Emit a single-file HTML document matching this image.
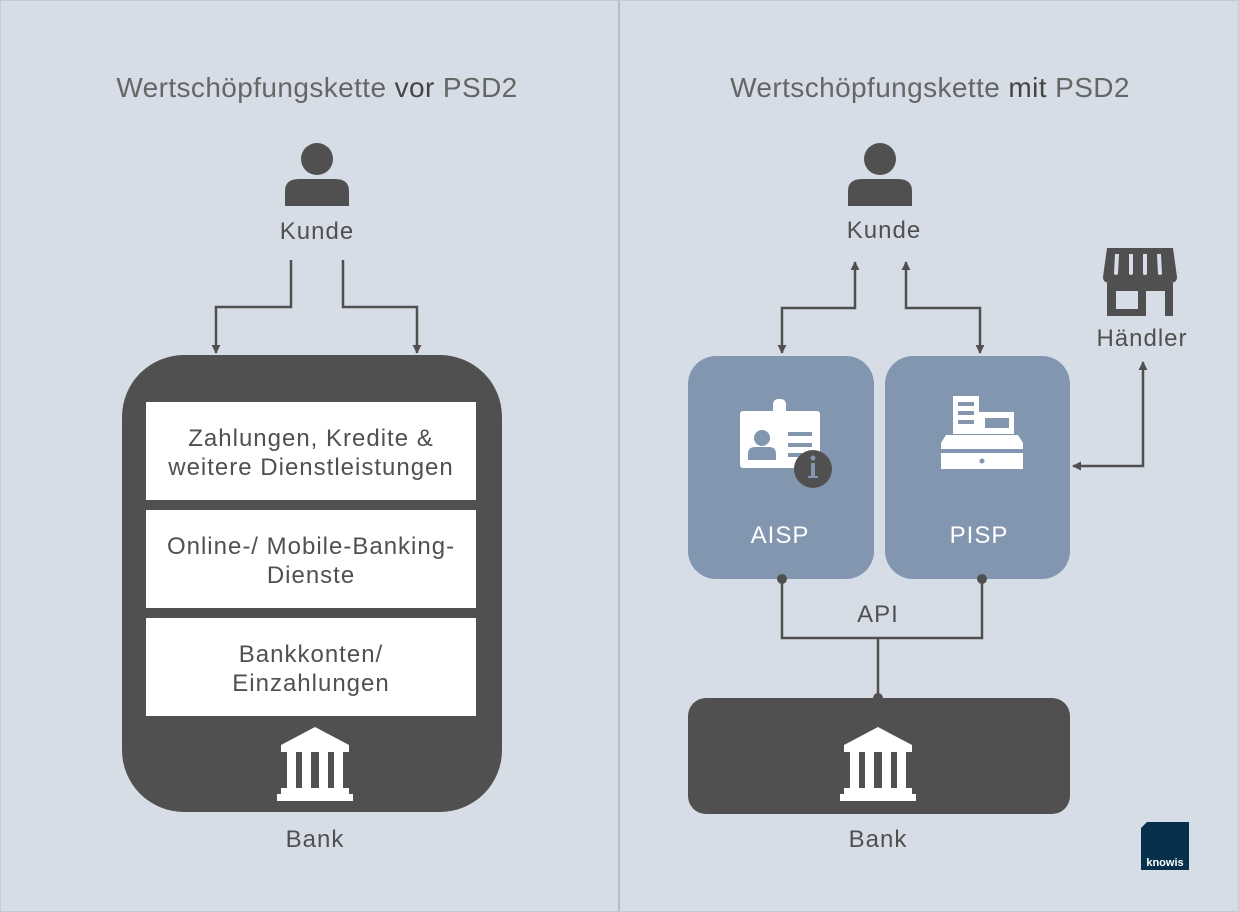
<!DOCTYPE html>
<html><head><meta charset="utf-8"><style>
html,body{margin:0;padding:0;background:#d7dde6;}
svg{display:block;font-family:"Liberation Sans",sans-serif;}
</style></head><body>
<svg width="1239" height="912" viewBox="0 0 1239 912" xmlns="http://www.w3.org/2000/svg">
<defs>
<marker id="ah" viewBox="0 0 10 10" refX="9" refY="5" markerWidth="9" markerHeight="9" markerUnits="userSpaceOnUse" orient="auto-start-reverse"><path d="M0,0 L10,5 L0,10z" fill="#505050"/></marker>
<g id="bank" fill="#fff">
<path d="M0,-35 L34,-17 L34,-10 L-34,-10 L-34,-17z"/>
<rect x="-28" y="-10" width="9" height="38"/><rect x="-13" y="-10" width="9" height="38"/><rect x="4" y="-10" width="9" height="38"/><rect x="19" y="-10" width="9" height="38"/>
<rect x="-34" y="26" width="68" height="6"/><rect x="-38" y="32" width="76" height="7"/>
</g>
<g id="person" fill="#505050">
<circle cx="0" cy="0" r="16"/>
<path d="M-32,47 L-32,32 Q-32,20 -18,20 L18,20 Q32,20 32,32 L32,47z"/>
</g>
</defs>
<rect x="0" y="0" width="1239" height="912" fill="#d7dde6"/>
<line x1="619" y1="0" x2="619" y2="912" stroke="#b9bec6" stroke-width="2"/>
<rect x="0.5" y="0.5" width="1238" height="911" fill="none" stroke="#c5cad2"/>

<g fill="#666" font-size="28" text-anchor="middle" letter-spacing="0.4">
<text x="317" y="97">Wertschöpfungskette <tspan fill="#444">vor</tspan> PSD2</text>
<text x="930" y="97">Wertschöpfungskette <tspan fill="#444">mit</tspan> PSD2</text>
</g>

<g font-size="24" letter-spacing="1" fill="#505050" text-anchor="middle">
<text x="317" y="239">Kunde</text>
<text x="884" y="238">Kunde</text>
<text x="311" y="446">Zahlungen, Kredite &amp;</text>
<text x="311" y="475">weitere Dienstleistungen</text>
<text x="311" y="554">Online-/ Mobile-Banking-</text>
<text x="311" y="583">Dienste</text>
<text x="311" y="662">Bankkonten/</text>
<text x="311" y="691">Einzahlungen</text>
<text x="315" y="847">Bank</text>
<text x="878" y="847">Bank</text>
<text x="878" y="622">API</text>
<text x="1142" y="346">Händler</text>
</g>

<!-- left -->
<use href="#person" x="317" y="159"/>
<g stroke="#505050" stroke-width="2.5" fill="none">
<polyline points="291,260 291,307 216,307 216,353" marker-end="url(#ah)"/>
<polyline points="343,260 343,307 417,307 417,353" marker-end="url(#ah)"/>
</g>
<rect x="122" y="355" width="380" height="457" rx="62" fill="#505050"/>
<rect x="146" y="402" width="330" height="98" fill="#fff"/>
<rect x="146" y="510" width="330" height="98" fill="#fff"/>
<rect x="146" y="618" width="330" height="98" fill="#fff"/>
<g fill="#505050" font-size="24" letter-spacing="1" text-anchor="middle">
<text x="311" y="446">Zahlungen, Kredite &amp;</text>
<text x="311" y="475">weitere Dienstleistungen</text>
<text x="311" y="554">Online-/ Mobile-Banking-</text>
<text x="311" y="583">Dienste</text>
<text x="311" y="662">Bankkonten/</text>
<text x="311" y="691">Einzahlungen</text>
</g>
<use href="#bank" x="315" y="762"/>

<!-- right -->
<use href="#person" x="880" y="159"/>
<g stroke="#505050" stroke-width="2.5" fill="none">
<polyline points="855,262 855,308 782,308 782,353" marker-start="url(#ah)" marker-end="url(#ah)"/>
<polyline points="906,262 906,308 980,308 980,353" marker-start="url(#ah)" marker-end="url(#ah)"/>
<polyline points="1073,466 1143,466 1143,362" marker-start="url(#ah)" marker-end="url(#ah)"/>
<polyline points="782,579 782,638 982,638 982,579"/>
<line x1="878" y1="638" x2="878" y2="698"/>
</g>
<rect x="688" y="356" width="186" height="223" rx="28" fill="#8296b0"/>
<rect x="885" y="356" width="185" height="223" rx="28" fill="#8296b0"/>
<g fill="#fff">
<rect x="740" y="411" width="80" height="57" rx="3"/>
<rect x="773" y="399" width="13" height="18" rx="5"/>
</g>
<g fill="#8296b0">
<circle cx="762" cy="438" r="8"/>
<path d="M748,460 L748,454 Q748,447 755,447 L769,447 Q776,447 776,454 L776,460z"/>
<rect x="788" y="432" width="24" height="4"/><rect x="788" y="443" width="24" height="4"/><rect x="788" y="453" width="24" height="4"/>
</g>
<circle cx="813" cy="469" r="19" fill="#505050"/>
<g fill="#8296b0"><circle cx="813" cy="458" r="2.5"/><rect x="811" y="463" width="4" height="13"/><rect x="808" y="476" width="10" height="2"/></g>
<g fill="#fff">
<rect x="953" y="396" width="26" height="38"/>
<rect x="978" y="412" width="36" height="22"/>
<path d="M946,435 L1018,435 L1023,443 L1023,449 L941,449 L941,443z"/>
<rect x="941" y="453" width="82" height="16"/>
</g>
<g fill="#8296b0">
<rect x="958" y="402" width="16" height="4"/><rect x="958" y="411" width="16" height="4"/><rect x="958" y="420" width="16" height="4"/>
<rect x="985" y="418" width="24" height="10"/>
<circle cx="982" cy="461" r="2.5"/>
</g>
<g fill="#fff" font-size="24" letter-spacing="1" text-anchor="middle">
<text x="780" y="543">AISP</text>
<text x="979" y="543">PISP</text>
</g>
<circle cx="782" cy="579" r="5" fill="#505050"/>
<circle cx="982" cy="579" r="5" fill="#505050"/>
<rect x="688" y="698" width="382" height="116" rx="18" fill="#505050"/>
<circle cx="878" cy="698" r="5" fill="#505050"/>
<use href="#bank" x="878" y="762"/>
<g fill="#505050">
<path d="M1107,248 L1173,248 L1177,277 Q1177,283 1170,283 L1110,283 Q1103,283 1103,277z"/>
<rect x="1107" y="283" width="66" height="33"/>
</g>
<g fill="#d7dde6">
<path d="M1115,254 L1119,254 L1118,274 Q1116,276 1114,274z"/>
<path d="M1129,254 L1133,254 L1133,274 Q1131,276 1129,274z"/>
<path d="M1143,254 L1147,254 L1147,274 Q1145,276 1143,274z"/>
<path d="M1157,254 L1161,254 L1162,274 Q1160,276 1158,274z"/>
<rect x="1116" y="291" width="22" height="18"/>
<rect x="1146" y="291" width="19" height="25"/>
</g>
<path d="M1147,822 L1189,822 L1189,870 L1141,870 L1141,828z" fill="#06304b"/>
<text x="1165" y="866" font-size="11" font-weight="bold" fill="#fff" text-anchor="middle">knowis</text>
</svg>
</body></html>
